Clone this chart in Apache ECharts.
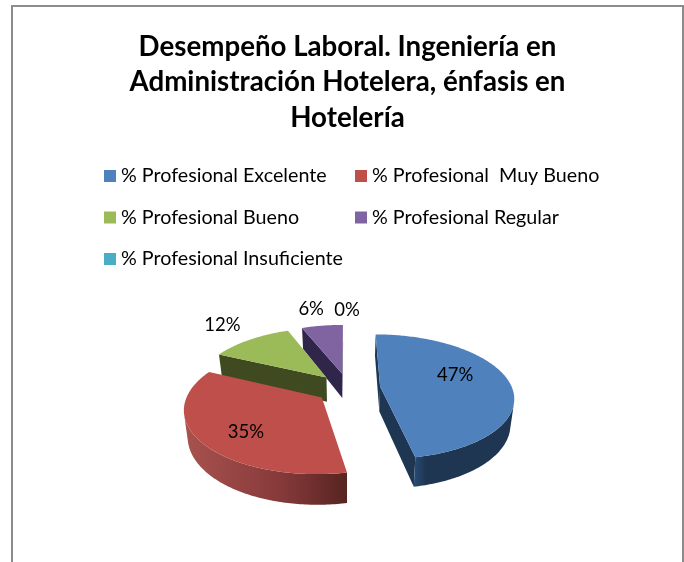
<!DOCTYPE html>
<html><head><meta charset="utf-8">
<style>html,body{margin:0;padding:0;background:#fff}#c{width:684px;height:562px}</style>
<script src="https://cdn.jsdelivr.net/npm/echarts@6/dist/echarts.min.js"></script>
</head><body><div id="c"></div>
<script>
const titleLines = ['Desempeño Laboral. Ingeniería en','Administración Hotelera, énfasis en','Hotelería'];
const categories = ['% Profesional Excelente','% Profesional  Muy Bueno','% Profesional Bueno','% Profesional Regular','% Profesional Insuficiente'];
const values = [47,35,12,6,0];
const topColors = ['#4f81bd','#be4f4b','#9bbb59','#8064a2','#4bacc6'];
const faceColors = ['#1f3652','#5b2622','#3f4a20','#30264a','#1f4a56'];
const wallStops = [
  [[0,'#2a4c74'],[0.12,'#1f3652'],[1,'#1f3652']],
  [[0,'#a8524e'],[0.6,'#86393a'],[1,'#572420']],
  [[0,'#3f4a20'],[1,'#3f4a20']],
  [[0,'#30264a'],[1,'#30264a']],
  [[0,'#1f4a56'],[1,'#1f4a56']]
];
const labelOffsets = [[75,-12],[-76,35],[-104,-52],[-31,-65],[-1,-64]];

// pie projection
const CX=348, CY=388, RX=132, RY=61, PERSP=0.161, EXPL=0.245, DEPTH=25, BOTTOM_X=0.977;
const total = values.reduce((a,b)=>a+b,0);
const starts = []; values.reduce((a,v,i)=>{starts[i]=a;return a+v;},0);
const rad = p => p/total*2*Math.PI;

function project(i,u,v,down){
  const mid = rad(starts[i]+values[i]/2);
  const X = u+EXPL*Math.sin(mid), Z = v+EXPL*Math.cos(mid);
  const s = 1/(1+PERSP*Z);
  let x = RX*X*s;
  if(down) x*=BOTTOM_X;
  return [CX+x, CY-RY*Z*s+(down?DEPTH*s:0)];
}
const rimPoint=(i,t,down)=>project(i,Math.sin(t),Math.cos(t),down);
const side=(a,b,p)=>(b[0]-a[0])*(p[1]-a[1])-(b[1]-a[1])*(p[0]-a[0]);

function renderSlice(i,value){
  const kids=[];
  const apex=project(i,0,0,false), apexB=project(i,0,0,true);
  if(value>0){
    const t0=rad(starts[i]), t1=rad(starts[i]+value);
    const n=Math.max(8,Math.ceil(value*4));
    const ts=[]; for(let k=0;k<=n;k++) ts.push(t0+(t1-t0)*k/n);
    const rim=ts.map(t=>rimPoint(i,t,false)), rimB=ts.map(t=>rimPoint(i,t,true));
    const bodyRef=rim[Math.floor(n/2)];
    // radial faces
    [0,n].forEach(k=>{
      const sB=side(apex,rim[k],bodyRef);
      const mid=[(apex[0]+rim[k][0])/2,(apex[1]+rim[k][1])/2+DEPTH];
      if(sB*side(apex,rim[k],mid)<0){
        kids.push({type:'polygon',shape:{points:[apex,rim[k],rimB[k],apexB]},style:{fill:faceColors[i]}});
      }
    });
    // curved outer wall
    const vis=[];
    for(let k=0;k<n;k++){
      const m=[(rimB[k][0]+rimB[k+1][0])/2,(rimB[k][1]+rimB[k+1][1])/2];
      if(side(rim[k],rim[k+1],apex)*side(rim[k],rim[k+1],m)<0) vis.push(k);
    }
    if(vis.length){
      const a=vis[0], b=vis[vis.length-1]+1;
      const up=rim.slice(a,b+1), lo=rimB.slice(a,b+1).reverse();
      const pts=up.concat(lo);
      const xs=pts.map(p=>p[0]), x0=Math.min(...xs), x1=Math.max(...xs);
      kids.push({type:'polygon',shape:{points:pts},style:{fill:new echarts.graphic.LinearGradient(x0,0,x1,0,
        wallStops[i].map(s=>({offset:s[0],color:s[1]})),true)}});
    }
    kids.push({type:'polygon',shape:{points:[apex].concat(rim)},style:{fill:topColors[i]}});
  }
  const anchor=project(i,0,0,false);
  kids.push({type:'text',z2:50,style:{x:anchor[0]+labelOffsets[i][0],y:anchor[1]+labelOffsets[i][1],
    text:Math.round(value/total*100)+'%',fill:'#000',font:'18.5px Lato',align:'center',verticalAlign:'middle'}});
  return {type:'group',children:kids};
}
const depthOf=i=>Math.cos(rad(starts[i]+values[i]/2));

const series=categories.map((name,i)=>({
  type:'custom',name,coordinateSystem:'none',silent:true,animation:false,
  z:10-depthOf(i),data:[[values[i]]],
  itemStyle:{color:topColors[i]},
  renderItem:(p,api)=>renderSlice(i,api.value(0))
}));
const legendBase={orient:'vertical',icon:'rect',itemWidth:12,itemHeight:12,itemGap:21.5,selectedMode:false,padding:0,
  textStyle:{fontFamily:'Lato',fontSize:19.7,color:'#000',height:18,lineHeight:18,padding:[0,0,0,0]}};
const chart=echarts.init(document.getElementById('c'),null,{renderer:'canvas'});
chart.setOption({
  animation:false,
  color:topColors,
  title:{text:titleLines.join('\n'),left:347.5,top:29,textAlign:'center',padding:0,
    textStyle:{fontFamily:'Lato',fontWeight:'bold',fontSize:27.7,color:'#000',lineHeight:35.5}},
  legend:[
    Object.assign({},legendBase,{left:104,top:166,data:[categories[0],categories[2],categories[4]]}),
    Object.assign({},legendBase,{left:355,top:166,data:[categories[1],categories[3]]})
  ],
  graphic:[{type:'rect',silent:true,z:-1,shape:{x:12,y:6,width:671,height:620},style:{fill:'#fff',stroke:'#8c8c8c',lineWidth:2}}],
  series
});
</script></body></html>
